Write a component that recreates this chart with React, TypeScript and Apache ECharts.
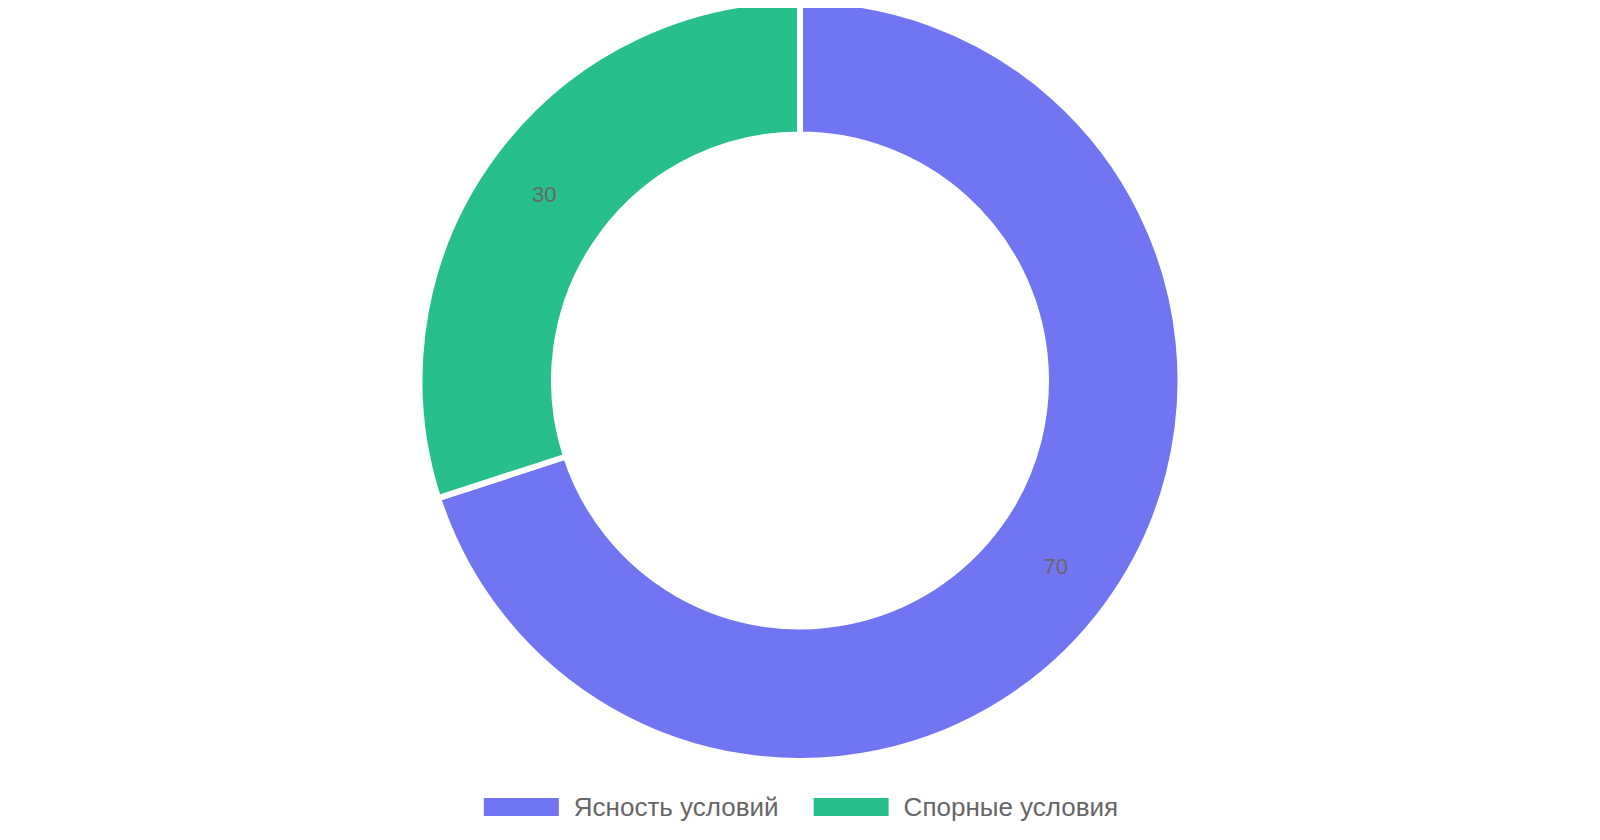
import React, { useEffect, useRef } from 'react';
import * as echarts from 'echarts';

// 分类与数值
const categories = ['Ясность условий', 'Спорные условия'];
const values = [70, 30];
const colors = ['rgba(99, 102, 241, 0.9)', 'rgba(16, 185, 129, 0.9)'];

const FONT = '"Liberation Sans", Arial, Helvetica, sans-serif';

const App: React.FC = () => {
  const chartRef = useRef<HTMLDivElement>(null);

  useEffect(() => {
    if (!chartRef.current) return;
    const chart = echarts.init(chartRef.current, null, { renderer: 'svg' });

    const option: echarts.EChartsOption = {
      animation: false,
      legend: {
        bottom: 7,
        left: 'center',
        icon: 'rect',
        itemWidth: 77,
        itemHeight: 20,
        itemGap: 33,
        textStyle: {
          color: '#666',
          fontSize: 26,
          fontFamily: FONT,
          padding: [0, 0, 0, 9]
        },
        data: categories
      },
      series: [
        {
          type: 'pie',
          center: ['50%', 372.5],
          radius: [246, 380.5],
          startAngle: 90,
          clockwise: true,
          avoidLabelOverlap: false,
          itemStyle: {
            borderColor: '#fff',
            borderWidth: 6
          },
          label: {
            show: true,
            position: 'inside',
            formatter: '{c}',
            color: '#666',
            fontSize: 22,
            fontFamily: FONT
          },
          labelLine: { show: false },
          emphasis: { disabled: true },
          data: categories.map((name, i) => ({
            name,
            value: values[i],
            itemStyle: { color: colors[i] }
          }))
        }
      ]
    };

    chart.setOption(option);

    function handleResize() {
      chart.resize();
    }
    window.addEventListener('resize', handleResize);
    return () => {
      window.removeEventListener('resize', handleResize);
      chart.dispose();
    };
  }, []);

  return <div ref={chartRef} style={{ width: '100%', height: '824px' }} />;
};

export default App;
